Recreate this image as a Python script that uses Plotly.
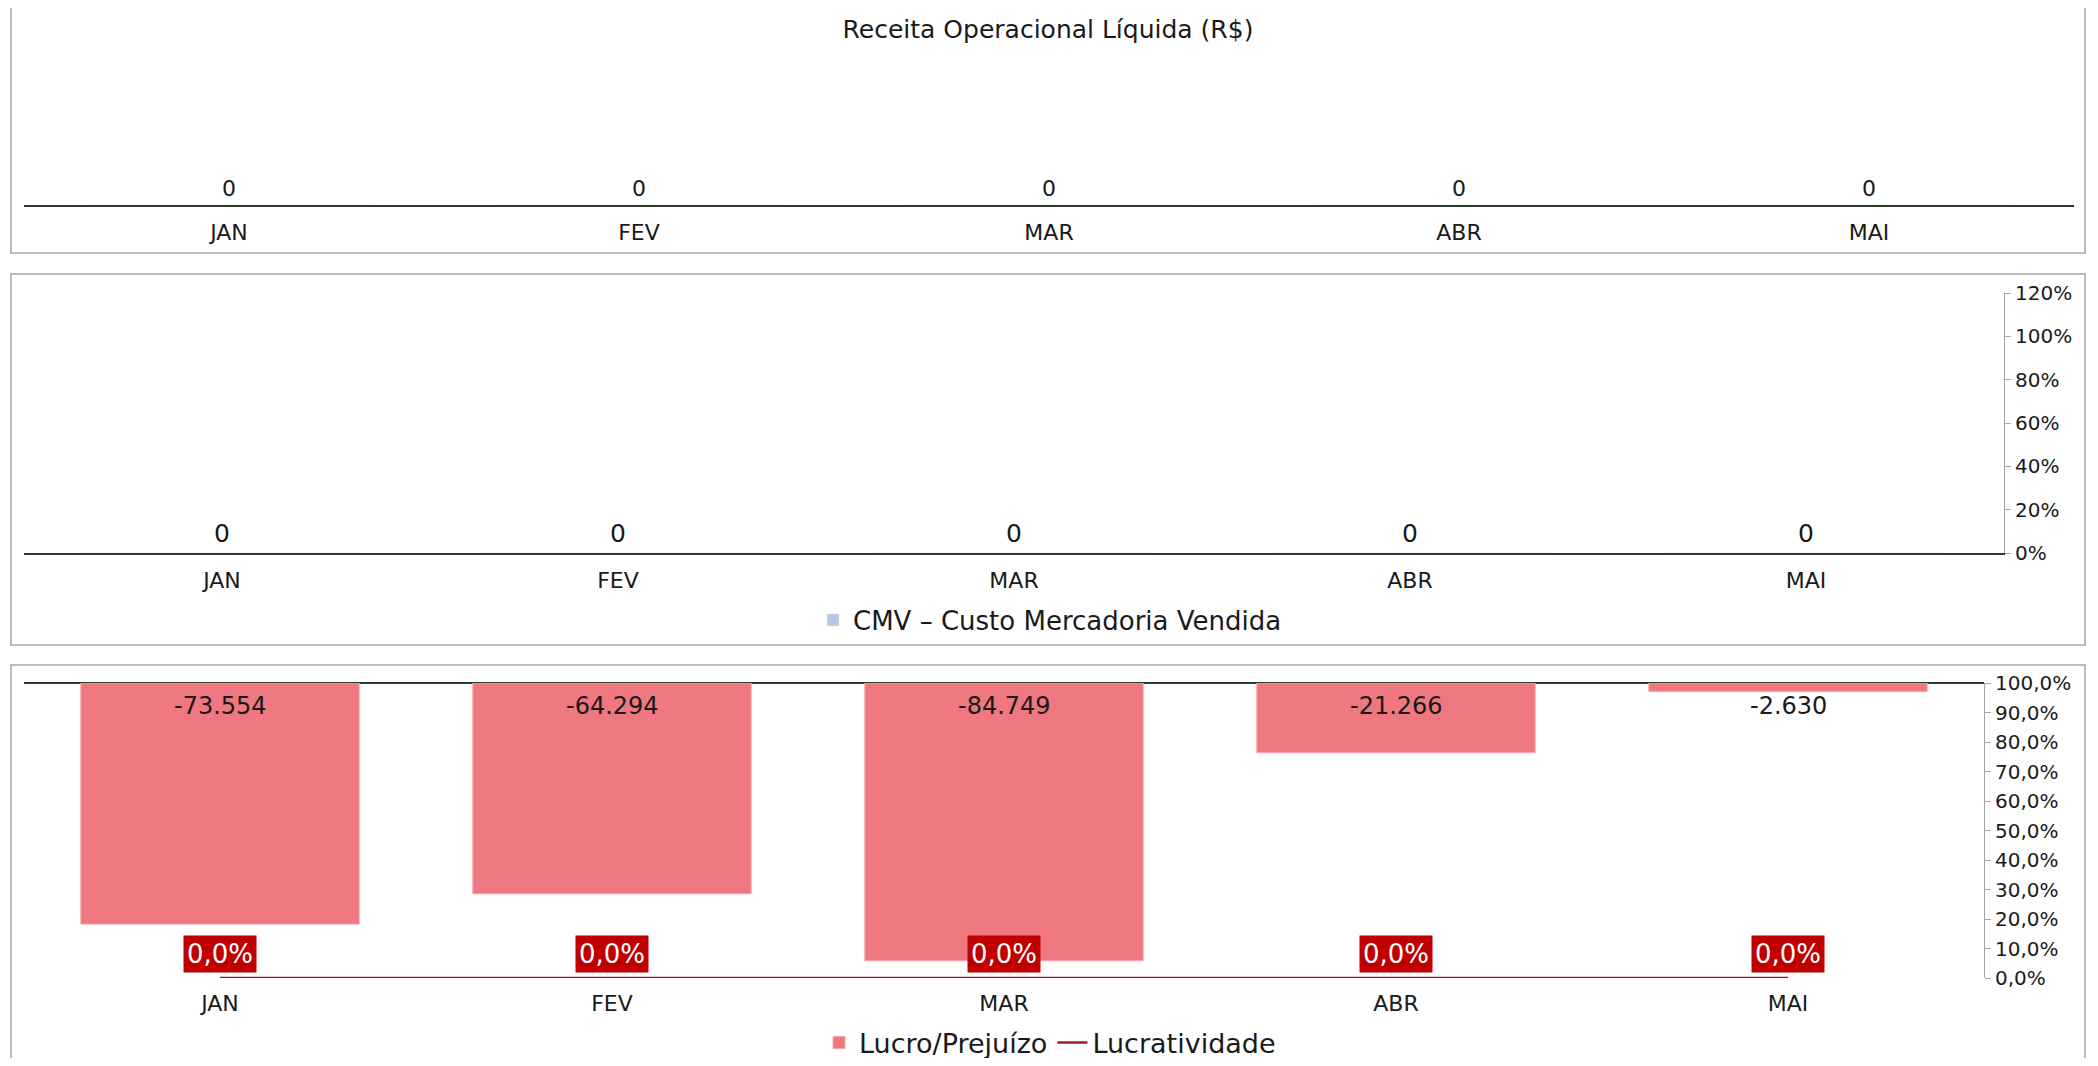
import plotly.graph_objects as go

# dados (R$)
meses = ["JAN", "FEV", "MAR", "ABR", "MAI"]
receita = [0, 0, 0, 0, 0]
cmv = [0, 0, 0, 0, 0]
cmv_pct = [None, None, None, None, None]  # sem receita, sem percentual
lucro = [-73554, -64294, -84749, -21266, -2630]
lucratividade = [0.0, 0.0, 0.0, 0.0, 0.0]

# the page body keeps its default 8px margin, so the figure is shrunk to fit the window
W, H = 2098, 1066
OFF = 8
FIG_W, FIG_H = W - 2 * OFF, H - 2 * OFF

FONT = "DejaVu Sans"
TXT = "#1a1a1a"
AXIS_DARK = "#2b3a2b"
GRAY = "#a6a6a6"
BAR_RED = "#ee7780"
LINE_RED = "#9b1b30"
LABEL_BG = "#c00000"


def fx(p):
    return (p - OFF) / FIG_W


def fy(p):
    return 1 - (p - OFF) / FIG_H


def fmt_int(v):
    return f"{v:,.0f}".replace(",", ".")


def fmt_pct(v):
    return f"{v * 100:.1f}%".replace(".", ",")


fig = go.Figure()

# painel 1 - receita
fig.add_trace(go.Bar(x=meses, y=receita, marker_color="#4472c4", showlegend=False,
                     xaxis="x", yaxis="y"))

# painel 2 - CMV
fig.add_trace(go.Bar(x=meses, y=cmv, name="CMV – Custo Mercadoria Vendida", marker_color="#b4c7e7",
                     xaxis="x2", yaxis="y2", legend="legend2"))
fig.add_trace(go.Scatter(x=meses, y=cmv_pct, mode="lines", showlegend=False, hoverinfo="skip",
                         line=dict(color="#4472c4"), xaxis="x2", yaxis="y3"))

# painel 3 - lucro / lucratividade
fig.add_trace(go.Bar(x=meses, y=lucro, name="Lucro/Prejuízo",
                     marker=dict(color=BAR_RED, line=dict(color="#f4a6ac", width=1)),
                     xaxis="x3", yaxis="y4", legend="legend3"))
fig.add_trace(go.Scatter(x=meses, y=lucratividade, name="Lucratividade", mode="lines",
                         line=dict(color=LINE_RED, width=2.5), cliponaxis=False,
                         xaxis="x3", yaxis="y5", legend="legend3"))

annotations = []
for m, v in zip(meses, receita):
    annotations.append(dict(x=m, y=v, xref="x", yref="y", text=fmt_int(v), showarrow=False,
                            yanchor="bottom", yshift=2, font=dict(size=22, color=TXT)))
for m, v in zip(meses, cmv):
    annotations.append(dict(x=m, y=v, xref="x2", yref="y2", text=fmt_int(v), showarrow=False,
                            yanchor="bottom", yshift=3, font=dict(size=25, color=TXT)))
for m, v in zip(meses, lucro):
    annotations.append(dict(x=m, y=0, xref="x3", yref="y4", text=fmt_int(v), showarrow=False,
                            yanchor="top", yshift=-7, font=dict(size=24, color=TXT)))
for m, v in zip(meses, lucratividade):
    annotations.append(dict(x=m, y=v, xref="x3", yref="y5", text=fmt_pct(v), showarrow=False,
                            yanchor="bottom", yshift=5, bgcolor=LABEL_BG, borderpad=3,
                            font=dict(size=26, color="white")))

border = dict(type="rect", xref="paper", yref="paper", line=dict(color=GRAY, width=1.5),
              fillcolor="rgba(0,0,0,0)", layer="below")
shapes = [
    dict(border, x0=fx(11), x1=fx(2085), y0=fy(253), y1=fy(4)),
    dict(border, x0=fx(11), x1=fx(2085), y0=fy(645), y1=fy(274)),
    dict(border, x0=fx(11), x1=fx(2085), y0=fy(1090), y1=fy(665)),
]

cat_axis = dict(showgrid=False, zeroline=False, ticks="", tickfont=dict(size=22, color=TXT),
                ticklabelstandoff=7, fixedrange=True)
pct_axis = dict(side="right", showgrid=False, zeroline=False, showline=True, linecolor=GRAY,
                linewidth=1, ticks="outside", ticklen=6, tickcolor=GRAY,
                tickfont=dict(size=20, color=TXT), fixedrange=True)

fig.update_layout(
    width=FIG_W, height=FIG_H,
    margin=dict(l=0, r=0, t=0, b=0, autoexpand=False),
    paper_bgcolor="white", plot_bgcolor="white",
    font=dict(family=FONT, color=TXT),
    separators=",.",
    barmode="group", bargap=0.29,
    title=dict(text="Receita Operacional Líquida (R$)", x=fx(1048), y=fy(29),
               xanchor="center", yanchor="middle", font=dict(size=25, color=TXT)),
    xaxis=dict(cat_axis, domain=[fx(24), fx(2074)], anchor="y", showline=True,
               linecolor=AXIS_DARK, linewidth=1.5),
    yaxis=dict(domain=[fy(205), fy(60)], anchor="x", range=[0, 1], visible=False),
    xaxis2=dict(cat_axis, domain=[fx(24), fx(2004)], anchor="y2", showline=True,
                linecolor=AXIS_DARK, linewidth=1.5),
    yaxis2=dict(domain=[fy(553), fy(293)], anchor="x2", range=[0, 1], visible=False),
    yaxis3=dict(pct_axis, overlaying="y2", anchor="x2", range=[0, 1.2], dtick=0.2,
                tickformat=".0%"),
    xaxis3=dict(cat_axis, domain=[fx(24), fx(1984)], anchor="y4", showline=False,
                ticklabelstandoff=10),
    yaxis4=dict(domain=[fy(978), fy(683)], anchor="x3", range=[-90000, 0],
                showticklabels=False, showgrid=False, showline=False, zeroline=True,
                zerolinecolor=AXIS_DARK, zerolinewidth=1.5, fixedrange=True),
    yaxis5=dict(pct_axis, overlaying="y4", anchor="x3", range=[0, 1], dtick=0.1,
                tickformat=".1%"),
    legend2=dict(x=fx(1050), y=fy(620), xanchor="center", yanchor="middle", orientation="h",
                 font=dict(size=26, color=TXT), bgcolor="rgba(0,0,0,0)"),
    legend3=dict(x=fx(1050), y=fy(1043), xanchor="center", yanchor="middle", orientation="h",
                 font=dict(size=27, color=TXT), bgcolor="rgba(0,0,0,0)"),
    shapes=shapes,
    annotations=annotations,
)

fig.write_html("out.html")
